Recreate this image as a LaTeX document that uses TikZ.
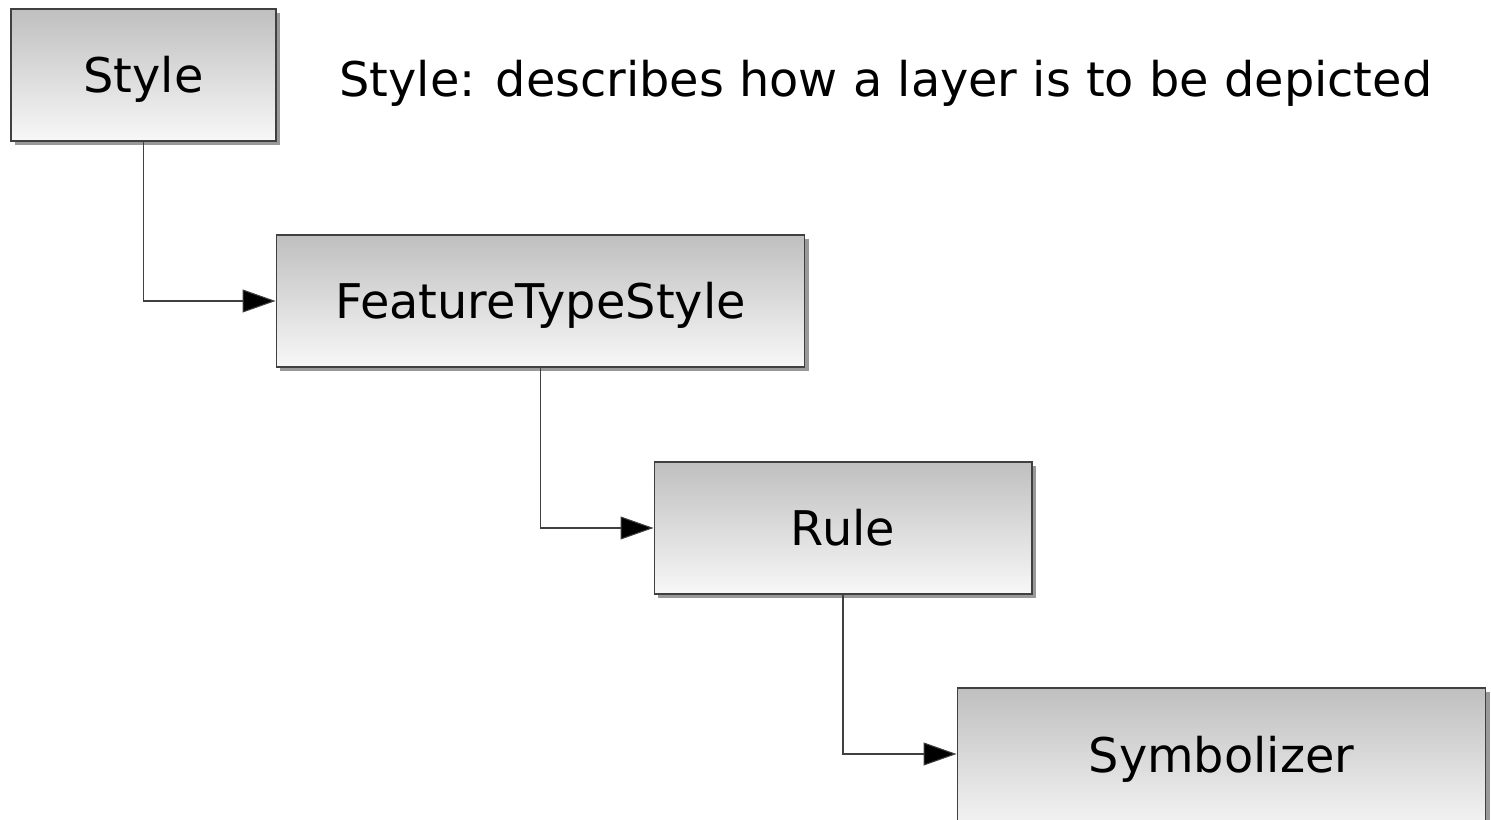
\documentclass[tikz,border=0pt]{standalone}
\usepackage{fontspec}
\setmainfont{DejaVu Sans}
\usetikzlibrary{arrows.meta,shadows}

\begin{document}
\begin{tikzpicture}[x=0.02cm,y=-0.02cm]

      \useasboundingbox (0,0) rectangle (1491,820);

      \begin{scope}[every node/.style={draw=black!75, line width=0.6pt,
          top color=black!25, bottom color=black!3,
          drop shadow={shadow xshift=0.08cm, shadow yshift=-0.08cm, fill=black!40, opacity=1},
          minimum height=2.64cm, inner sep=0pt, text height=20pt, text depth=0pt,
          font=\fontsize{27.2}{32}\selectfont}]
        \node[minimum width=5.3cm]   (style) at (143.5,75)  {Style};
        \node[minimum width=10.58cm] (fts)   at (540.5,301) {FeatureTypeStyle};
        \node[minimum width=7.56cm]  (rule)  at (843,528)   {Rule};
        % runs off the bottom edge
        \node[minimum width=10.58cm, minimum height=2.96cm, text depth=8pt] (sym) at (1221.5,762) {Symbolizer};
      \end{scope}

      \node[anchor=base west, inner sep=0pt, font=\fontsize{27.2}{32}\selectfont] (desc) at (339,97)
        {Style: describes how a layer is to be depicted};

      \begin{scope}[every path/.style={draw=black!75, line width=0.6pt,
          -{Triangle[length=0.66cm, width=0.46cm, fill=black]}}]
        \path (style) |- (fts);
        \path (fts)   |- (rule);
        \path (rule)  |- ([yshift=0.16cm]sym.west);
      \end{scope}

    \end{tikzpicture}
\end{document}
